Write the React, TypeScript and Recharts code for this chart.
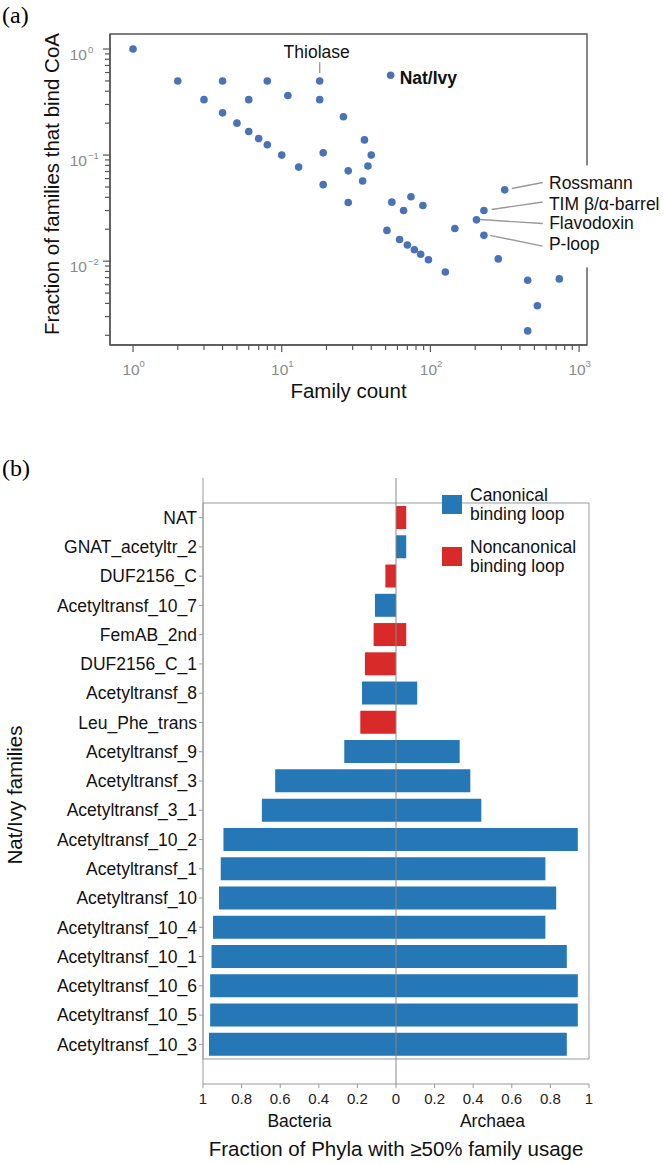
import React from 'react';
import {
  ScatterChart, Scatter, XAxis, YAxis, ReferenceArea, ReferenceLine,
  BarChart, Bar, Cell, Legend,
} from 'recharts';

const FONT = '"Liberation Sans", Arial, Helvetica, sans-serif';
const SERIF = '"Liberation Serif", "Times New Roman", serif';

// ---- panel (a): fraction of families that bind CoA vs family count ----
const familyCounts = [
  1, 2, 4, 8, 3, 6, 11, 18, 4, 5, 6, 7, 8, 10, 13, 19, 19, 26, 36, 40, 38,
  28, 35, 28, 55, 74, 66, 89, 51, 62, 70, 78, 86, 97, 126, 146, 286, 451,
  736, 524, 451,
];
const bindFractions = [
  1, 0.5, 0.5, 0.5, 0.333, 0.333, 0.364, 0.333, 0.25, 0.2, 0.167, 0.143,
  0.125, 0.1, 0.077, 0.105, 0.0526, 0.23, 0.139, 0.1, 0.079, 0.071, 0.057,
  0.0357, 0.036, 0.0405, 0.03, 0.0335, 0.0195, 0.016, 0.0142, 0.0128,
  0.0116, 0.0103, 0.0079, 0.0203, 0.0105, 0.0066, 0.0068, 0.0038, 0.0022,
];
const namedFolds = ['Thiolase', 'Nat/Ivy', 'Rossmann', 'TIM β/α-barrel', 'Flavodoxin', 'P-loop'];
const namedCounts = [18, 54, 316, 229, 204, 229];
const namedFractions = [0.5, 0.565, 0.047, 0.03, 0.0245, 0.0175];

const countDecades = [1, 10, 100, 1000];
const fractionDecades = [0.001, 0.01, 0.1, 1];

const X_MIN = 0.7;
const X_MAX = 1130;
const Y_MIN = 0.00162;
const Y_MAX = 1.385;

// ---- panel (b): Nat/Ivy families ----
const families = [
  'NAT', 'GNAT_acetyltr_2', 'DUF2156_C', 'Acetyltransf_10_7', 'FemAB_2nd',
  'DUF2156_C_1', 'Acetyltransf_8', 'Leu_Phe_trans', 'Acetyltransf_9',
  'Acetyltransf_3', 'Acetyltransf_3_1', 'Acetyltransf_10_2', 'Acetyltransf_1',
  'Acetyltransf_10', 'Acetyltransf_10_4', 'Acetyltransf_10_1',
  'Acetyltransf_10_6', 'Acetyltransf_10_5', 'Acetyltransf_10_3',
];
const bacteria = [
  0, 0, 0.055, 0.109, 0.116, 0.161, 0.176, 0.185, 0.268, 0.626, 0.695,
  0.894, 0.908, 0.917, 0.948, 0.956, 0.963, 0.963, 0.969,
];
const archaea = [
  0.053, 0.053, 0, 0, 0.053, 0, 0.11, 0, 0.33, 0.385, 0.442, 0.942, 0.774,
  0.83, 0.774, 0.885, 0.942, 0.942, 0.885,
];
// 0 = canonical binding loop, 1 = noncanonical
const loopType = [1, 0, 1, 0, 1, 1, 0, 1, 0, 0, 0, 0, 0, 0, 0, 0, 0, 0, 0];
const loopLabels = [['Canonical', 'binding loop'], ['Noncanonical', 'binding loop']];
const kingdoms = ['Bacteria', 'Archaea'];
const phylaTicks = [-1, -0.8, -0.6, -0.4, -0.2, 0, 0.2, 0.4, 0.6, 0.8, 1];

const DOT = '#4a72b6';
const AX = '#555';
const TICK = '#8a8a8a';
const loopColors = ['#2577b5', '#d92a2a'];

const withMinor = (decades: number[], lo: number, hi: number) =>
  decades
    .flatMap((d) => [1, 2, 3, 4, 5, 6, 7, 8, 9].map((m) => +(m * d).toPrecision(3)))
    .filter((v) => v >= lo && v <= hi);

const xTicks = withMinor(countDecades, X_MIN, X_MAX);
const yTicks = withMinor(fractionDecades, Y_MIN, Y_MAX);

const isDecade = (v: number) => Math.abs(Math.log10(v) - Math.round(Math.log10(v))) < 1e-6;
const expText = (v: number) => {
  const e = Math.round(Math.log10(v));
  return e < 0 ? `\u2212${-e}` : String(e);
};

const points = familyCounts.map((c, i) => ({ count: c, frac: bindFractions[i] }));
const named = namedFolds.map((name, i) => ({ name, count: namedCounts[i], frac: namedFractions[i] }));

const rows = families.map((f, i) => ({
  family: f,
  bacteria: -bacteria[i],
  archaea: archaea[i],
  loop: loopType[i],
}));

// label placement relative to each named point (pixels)
const labelLayout: Record<string, any> = {
  'Thiolase': { dx: -3, dy: -28.6, anchor: 'middle', lead: [0, -18.6, 0, -8] },
  'Nat/Ivy': { dx: 9, dy: 2.4, anchor: 'start', bold: true },
  'Rossmann': { dx: 44.3, dy: -7.4, anchor: 'start', lead: [7, -1.4, 38, -7.4], bg: [-17, 12] },
  'TIM β/α-barrel': { dx: 65, dy: -7, anchor: 'start', lead: [7.7, -1, 58.7, -8.6], bg: [-12, 12] },
  'Flavodoxin': { dx: 72.7, dy: 3, anchor: 'start', lead: [3.7, -0.3, 66.4, 3.7], bg: [-12, 12] },
  'P-loop': { dx: 65, dy: 9, anchor: 'start', lead: [6, 0, 58.7, 10.7], bg: [-12, 23] },
};

const LogTickX = (props: any) => {
  const { x, y, payload } = props;
  const v = payload.value;
  const major = isDecade(v);
  return (
    <g>
      <line x1={x} x2={x} y1={y} y2={y + (major ? 7 : 5)} stroke={AX} strokeWidth={1.2} />
      {major && (
        <>
          <text x={x - 2} y={y + 30} textAnchor="middle" fontSize={15.5} fill={TICK}>10</text>
          <text x={x + 6.5} y={y + 21.5} textAnchor="start" fontSize={9.5} fill={TICK}>{expText(v)}</text>
        </>
      )}
    </g>
  );
};

const LogTickY = (props: any) => {
  const { x, y, payload } = props;
  const v = payload.value;
  const major = isDecade(v);
  return (
    <g>
      <line x1={x - (major ? 7 : 5)} x2={x} y1={y} y2={y} stroke={AX} strokeWidth={1.2} />
      {major && (
        <>
          <text x={x - 23} y={y + 10.5} textAnchor="end" fontSize={15.5} fill={TICK}>10</text>
          <text x={x - 22} y={y + 3.5} textAnchor="start" fontSize={9.5} fill={TICK}>{expText(v)}</text>
        </>
      )}
    </g>
  );
};

const Dot = (props: any) => <circle cx={props.cx} cy={props.cy} r={3.8} fill={DOT} />;

const LabelBg = (props: any) => {
  const { cx, cy, payload } = props;
  const lay = labelLayout[payload.name];
  if (!lay || !lay.bg) return <g />;
  return (
    <rect x={cx + lay.dx - 4} y={cy + lay.dy + lay.bg[0]} width={110}
      height={lay.bg[1] - lay.bg[0]} fill="#fff" />
  );
};

const NamedPoint = (props: any) => {
  const { cx, cy, payload } = props;
  const lay = labelLayout[payload.name];
  return (
    <g>
      {lay.lead && (
        <line x1={cx + lay.lead[0]} y1={cy + lay.lead[1]} x2={cx + lay.lead[2]} y2={cy + lay.lead[3]}
          stroke="#9a9a9a" strokeWidth={1.4} />
      )}
      <circle cx={cx} cy={cy} r={3.8} fill={DOT} />
      <text x={cx + lay.dx} y={cy + lay.dy} dy="0.35em" textAnchor={lay.anchor}
        fontSize={17.5} fontWeight={lay.bold ? 'bold' : 'normal'} fill="#111">
        {payload.name}
      </text>
    </g>
  );
};

const LoopLegend = () => (
  <div style={{ fontFamily: FONT, fontSize: 17.5, lineHeight: '19px', color: '#111' }}>
    {loopLabels.map((lines, i) => (
      <div key={i} style={{ display: 'flex', alignItems: 'center', marginBottom: i === 0 ? 14 : 0 }}>
        <div style={{ width: 19.5, height: 19.5, background: loopColors[i], marginRight: 8.5, flex: 'none' }} />
        <div>{lines.map((l) => <div key={l}>{l}</div>)}</div>
      </div>
    ))}
  </div>
);

const VerticalTitle = ({ x, y, text }: { x: number; y: number; text: string }) => (
  <text x={x} y={y} transform={`rotate(-90 ${x} ${y})`} textAnchor="middle" dy="0.35em"
    fontSize={20.5} fill="#111">
    {text}
  </text>
);

// kingdom names under each half of the axis, plus the axis title
const PhylaTitle = (props: any) => {
  const vb = props.viewBox || { x: 203, y: 714, width: 386, height: 50 };
  return (
    <g fill="#111">
      {kingdoms.map((k, i) => (
        <text key={k} x={vb.x + vb.width * (i === 0 ? 0.25 : 0.75)} y={vb.y + 7} dy="0.35em"
          textAnchor="middle" fontSize={17.5}>
          {k}
        </text>
      ))}
      <text x={vb.x + vb.width / 2} y={vb.y + vb.height - 8} textAnchor="middle" fontSize={20.5}>
        Fraction of Phyla with ≥50% family usage
      </text>
    </g>
  );
};

export default function App() {
  return (
    <div style={{ position: 'absolute', left: 0, top: 0, width: 664, height: 1164, background: '#fff', fontFamily: FONT }}>
      <div style={{ position: 'absolute', left: 2, top: 0, fontFamily: SERIF, fontSize: 24, lineHeight: '30px' }}>(a)</div>
      <div style={{ position: 'absolute', left: 2, top: 453, fontFamily: SERIF, fontSize: 24, lineHeight: '30px' }}>(b)</div>

      <div style={{ position: 'absolute', left: 0, top: 0 }}>
        <ScatterChart width={664} height={410} margin={{ top: 34, right: 77, bottom: 10, left: 0 }}>
          <XAxis type="number" dataKey="count" scale="log" domain={[X_MIN, X_MAX]}
            ticks={xTicks} interval={0} tickSize={0} tickMargin={0} tickLine={false}
            tick={(p: any) => <LogTickX {...p} />} height={55}
            axisLine={{ stroke: AX, strokeWidth: 1.4 }}
            label={{ value: 'Family count', position: 'insideBottom', offset: 2, fontSize: 20.5, fill: '#111' }} />
          <YAxis type="number" dataKey="frac" scale="log" domain={[Y_MIN, Y_MAX]}
            ticks={yTicks} interval={0} tickSize={0} tickMargin={0} tickLine={false}
            tick={(p: any) => <LogTickY {...p} />} width={110}
            axisLine={{ stroke: AX, strokeWidth: 1.4 }}
            label={{ content: () => <VerticalTitle x={52} y={184} text="Fraction of families that bind CoA" /> }} />
          <ReferenceArea x1={X_MIN} x2={X_MAX} y1={Y_MIN} y2={Y_MAX} fill="none" fillOpacity={0}
            stroke={AX} strokeWidth={1.4} ifOverflow="visible" />
          <Scatter data={named} shape={(p: any) => <LabelBg {...p} />} isAnimationActive={false} />
          <Scatter data={points} shape={(p: any) => <Dot {...p} />} isAnimationActive={false} />
          <Scatter data={named} shape={(p: any) => <NamedPoint {...p} />} isAnimationActive={false} />
        </ScatterChart>
      </div>

      <div style={{ position: 'absolute', left: 0, top: 400 }}>
        <BarChart width={664} height={764} data={rows} layout="vertical" stackOffset="sign"
          margin={{ top: 78, right: 75, bottom: 0, left: 0 }}>
          <XAxis xAxisId="main" type="number" domain={[-1, 1]} ticks={phylaTicks} interval={0}
            tickFormatter={(v: number) => String(Math.abs(v))} height={30} tickSize={4} tickMargin={5}
            axisLine={{ stroke: '#999' }} tickLine={{ stroke: '#999' }}
            tick={{ fontSize: 15, fill: '#222' }} />
          <XAxis xAxisId="side" type="number" domain={[-1, 1]} height={50}
            axisLine={false} tickLine={false} tick={false}
            label={{ content: (p: any) => <PhylaTitle {...p} /> }} />
          <YAxis type="category" dataKey="family" width={203} interval={0}
            padding={{ top: 25, bottom: 25 }} tickSize={4} tickMargin={2}
            axisLine={{ stroke: '#999' }} tickLine={{ stroke: '#999' }}
            tick={{ fontSize: 17.5, fill: '#111' }}
            label={{ content: () => <VerticalTitle x={15} y={395} text="Nat/Ivy families" /> }} />
          <ReferenceArea xAxisId="main" x1={-1} x2={1} fill="none" fillOpacity={0} stroke="#999" ifOverflow="visible" />
          <ReferenceLine xAxisId="main" x={0} stroke="#888" />
          <Bar xAxisId="main" dataKey="bacteria" stackId="p" barSize={23} isAnimationActive={false}>
            {rows.map((r, i) => <Cell key={i} fill={loopColors[r.loop]} />)}
          </Bar>
          <Bar xAxisId="main" dataKey="archaea" stackId="p" barSize={23} isAnimationActive={false}>
            {rows.map((r, i) => <Cell key={i} fill={loopColors[r.loop]} />)}
          </Bar>
          <Legend layout="vertical" align="center" verticalAlign="middle"
            wrapperStyle={{ left: 442, top: 85.5, width: 210 }} content={() => <LoopLegend />} />
        </BarChart>
      </div>
    </div>
  );
}
